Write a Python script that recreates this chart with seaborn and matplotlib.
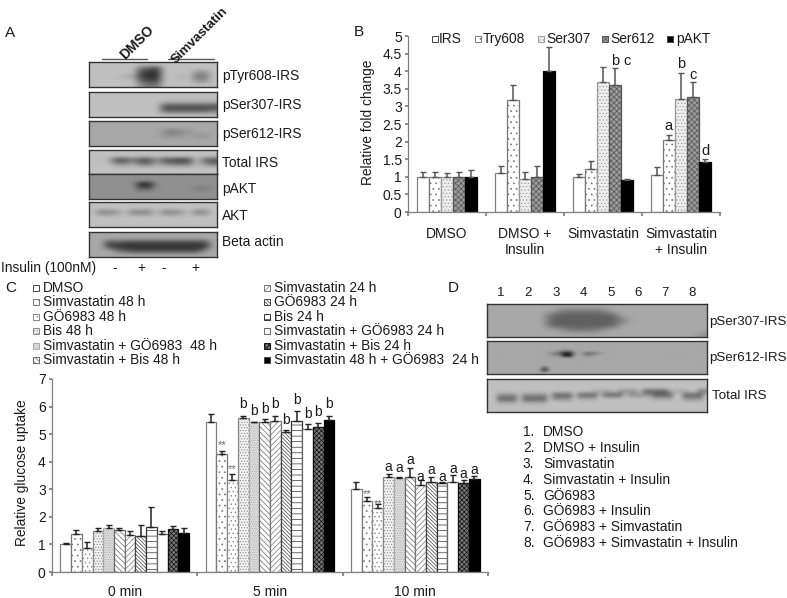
import numpy as np
import pandas as pd
import seaborn as sns
import matplotlib.pyplot as plt
from matplotlib.patches import Rectangle

W, H = 787, 598

# panel B values
b_groups = ['DMSO', 'DMSO +\nInsulin', 'Simvastatin', 'Simvastatin\n+ Insulin']
b_series = ['IRS', 'Try608', 'Ser307', 'Ser612', 'pAKT']
b_irs = [1.0, 1.1, 1.0, 1.05]
b_try608 = [1.0, 3.17, 1.22, 2.05]
b_ser307 = [1.0, 0.95, 3.7, 3.2]
b_ser612 = [1.0, 1.0, 3.6, 3.27]
b_pakt = [1.0, 4.0, 0.9, 1.42]
b_irs_top = [1.15, 1.3, 1.07, 1.27]
b_try608_top = [1.15, 3.6, 1.45, 2.2]
b_ser307_top = [1.1, 1.13, 4.13, 3.95]
b_ser612_top = [1.15, 1.3, 4.08, 3.68]
b_pakt_top = [1.2, 4.7, 0.93, 1.5]

# panel C values, one list per time point
c_groups = ['0 min', '5 min', '10 min']
c_series = ['DMSO', 'Simvastatin 48 h', 'GÖ6983 48 h', 'Bis 48 h',
            'Simvastatin + GÖ6983  48 h', 'Simvastatin + Bis 48 h',
            'Simvastatin 24 h', 'GÖ6983 24 h', 'Bis 24 h',
            'Simvastatin + GÖ6983 24 h', 'Simvastatin + Bis 24 h',
            'Simvastatin 48 h + GÖ6983  24 h']
c_0 = [1.0, 1.38, 0.87, 1.5, 1.58, 1.52, 1.33, 1.3, 1.65, 1.38, 1.57, 1.4]
c_5 = [5.43, 4.27, 3.32, 5.6, 5.43, 5.45, 5.49, 5.07, 5.46, 5.2, 5.27, 5.5]
c_10 = [3.02, 2.59, 2.33, 3.44, 3.41, 3.44, 3.16, 3.28, 3.24, 3.28, 3.23, 3.39]
c_0_top = [1.04, 1.52, 1.1, 1.58, 1.7, 1.6, 1.48, 1.7, 2.35, 1.5, 1.67, 1.58]
c_5_top = [5.73, 4.39, 3.56, 5.66, 5.45, 5.56, 5.65, 5.15, 5.84, 5.38, 5.42, 5.65]
c_10_top = [3.26, 2.71, 2.46, 3.55, 3.44, 3.76, 3.34, 3.46, 3.28, 3.52, 3.34, 3.5]
c_b_y = [6.09, 5.85, 5.93, 6.08, 5.51, 6.24, 5.73, 5.79, 6.08]
c_a_y = [3.8, 3.76, 4.07, 3.44, 3.7, 3.46, 3.75, 3.56, 3.7]

# blots: darkness digit per cell, 0 white .. 9 black
blot_tyr = ['2222222222222222',
            '2222225672222222',
            '2222227882222442',
            '2222337882232552',
            '2222226772222442',
            '2222224552222222']
blot_307 = ['2222222222222222',
            '2222222222222222',
            '2222222223333333',
            '2222222227777777',
            '2222222226666665',
            '2222222222222222']
blot_612 = ['3333333333333333',
            '3333333333333333',
            '3333333334544333',
            '3333333334443443',
            '3333333333333333',
            '3333333333333333']
blot_total = ['2222222222222222',
              '2222222222222222',
              '2237757747787267',
              '2224435534555245',
              '2222222222222222',
              '2222222222222222']
blot_akt_p = ['4444444444444444',
              '4444444444444444',
              '4444449944444444',
              '4444446644444554',
              '4444444444444444',
              '4444444444444444']
blot_akt = ['2222222222222222',
            '2222222222222222',
            '2554255525542552',
            '2222222222222222',
            '2222222222222222',
            '2222222222222222']
blot_actin = ['3333333333333333',
              '3333333333333333',
              '3376777777777773',
              '3378888888888883',
              '3335677777777743',
              '3333333333333333']
blot_d307 = ['3333333333333333333333',
             '3333333555553333333333',
             '3333336666666333333333',
             '3333336666666533333333',
             '3333336666666333333333',
             '3333333455543333333333',
             '3333333333333333333334']
d612_bg = '3' * 44
blot_d612 = [d612_bg, d612_bg, d612_bg, d612_bg,
             '3' * 14 + '4553' + '3' * 26,
             '3' * 12 + '45699' + '43' + '5654' + '3' * 21,
             '3' * 13 + '4499' + '33' + '443' + '3' * 22,
             d612_bg, d612_bg, d612_bg, d612_bg,
             '3' * 11 + '7' + '3' * 32,
             '3' * 11 + '9' + '3' * 32,
             d612_bg]
dtotal_bg = '2' * 44
blot_dtotal = [dtotal_bg, dtotal_bg, dtotal_bg,
               '22222222222222222222233332444426666633332255552',
               '22444424444426666266662666624444466662266662',
               '22666626666624444233332222222222233332244442',
               '22333323333322222222222222222222222222222222',
               dtotal_bg, dtotal_bg]
blot_dtotal = [r[:44] for r in blot_dtotal]

a_labels = ['pTyr608-IRS', 'pSer307-IRS', 'pSer612-IRS', 'Total IRS', 'pAKT', 'AKT', 'Beta actin']
d_labels = ['pSer307-IRS', 'pSer612-IRS', 'Total IRS']
d_lanes = ['DMSO', 'DMSO + Insulin', 'Simvastatin', 'Simvastatin + Insulin', 'GÖ6983',
           'GÖ6983 + Insulin', 'GÖ6983 + Simvastatin', 'GÖ6983 + Simvastatin + Insulin']

GREY = '#808080'
TXT = '#1a1a1a'

sns.set_theme(style='white')
plt.rcParams['font.family'] = ['Liberation Sans', 'DejaVu Sans']
plt.rcParams['font.size'] = 10
plt.rcParams['hatch.linewidth'] = 0.5

fig = plt.figure(figsize=(W / 100, H / 100), dpi=100)
fig.patch.set_facecolor('white')


def px_axes(left, top, right, bottom):
    return fig.add_axes([left / W, 1 - bottom / H, (right - left) / W, (bottom - top) / H])


def label(x, y, s, ha='left', va='center', size=9.9, **kw):
    fig.text(x / W, 1 - y / H, s, ha=ha, va=va, fontsize=size, color=kw.pop('color', TXT), **kw)


def swatch(x, y, size, face, hatch, edge):
    fig.add_artist(Rectangle((x / W, 1 - (y + size / 2) / H), size / W, size / H,
                             transform=fig.transFigure, facecolor=face,
                             hatch=hatch, edgecolor=edge, linewidth=0.7))


def blot(rows, left, top, right, bottom):
    ax = px_axes(left, top, right, bottom)
    grid = np.array([[240 - 24 * int(c) for c in row] for row in rows])
    ax.imshow(grid, cmap='gray', vmin=0, vmax=255, aspect='auto', interpolation='bicubic')
    ax.set_xticks([])
    ax.set_yticks([])
    for s in ax.spines.values():
        s.set_visible(True)
        s.set_color('#333333')
        s.set_linewidth(1)


def bars(ax, groups, series, columns, tops, width, styles, err_color, cap):
    rows = []
    for s, vals in zip(series, columns):
        for g, v in zip(groups, vals):
            rows.append({'group': g, 'series': s, 'value': v})
    df = pd.DataFrame(rows)
    sns.barplot(data=df, x='group', y='value', hue='series', order=groups, hue_order=series,
                width=width, gap=0, palette=['white'] * len(series), saturation=1,
                edgecolor=GREY, linewidth=0.9, legend=False, errorbar=None, ax=ax)
    for cont, (face, hatch, edge), vals, top in zip(ax.containers, styles, columns, tops):
        xs = []
        for p in cont.patches:
            p.set_facecolor(face)
            p.set_hatch(hatch)
            p.set_edgecolor(edge)
            xs.append(p.get_x() + p.get_width() / 2)
        up = np.array(top) - np.array(vals)
        ax.errorbar(xs, vals, yerr=[np.zeros(len(up)), up], fmt='none', ecolor=err_color,
                    elinewidth=1.1, capsize=cap, capthick=1.0, zorder=1)
    ax.set_xlim(-0.5, len(groups) - 0.5)
    ax.set_xlabel('')
    ax.set_ylabel('')
    ax.patch.set_alpha(0)
    for s in ['top', 'right']:
        ax.spines[s].set_visible(False)
    for s in ['left', 'bottom']:
        ax.spines[s].set_color(GREY)
        ax.spines[s].set_linewidth(0.9)
    ax.set_xticks(np.arange(len(groups) + 1) - 0.5)
    ax.set_xticklabels([])
    ax.set_xticks(np.arange(len(groups)), labels=groups, minor=True)
    ax.tick_params(axis='x', which='major', length=3, color=GREY, bottom=True)
    ax.tick_params(axis='x', which='minor', length=0, bottom=False, labelcolor=TXT, labelsize=10)
    ax.tick_params(axis='y', length=2.5, color=GREY, left=True, labelcolor=TXT, labelsize=10, pad=2)


# panel letters
label(5, 33, 'A', size=11)
label(354, 32, 'B', size=11)
label(5, 288, 'C', size=11)
label(448, 288, 'D', size=11)

# panel A
a_blots = [blot_tyr, blot_307, blot_612, blot_total, blot_akt_p, blot_akt, blot_actin]
a_tops = [62, 92, 121, 150, 174, 202, 232]
a_bottoms = [87, 117, 146, 174, 199, 227, 257]
a_text_y = [76, 105, 134, 163, 189, 216, 242]
for rows, t, b, lab, ty in zip(a_blots, a_tops, a_bottoms, a_labels, a_text_y):
    blot(rows, 89, t, 217, b)
    label(222, ty, lab)
fig.add_artist(plt.Line2D([102 / W, 147 / W], [1 - 59 / H] * 2, color='#555555', lw=1))
fig.add_artist(plt.Line2D([168 / W, 214 / W], [1 - 59 / H] * 2, color='#555555', lw=1))
label(137, 42, 'DMSO', ha='center', rotation=45, fontweight='bold', size=10)
label(200, 36, 'Simvastatin', ha='center', rotation=45, fontweight='bold', size=9.5)
label(1, 268, 'Insulin (100nM)')
for x, s in zip([115, 141, 164, 195], ['-', '+', '-', '+']):
    label(x, 268, s, ha='center')

# panel B
ax_b = px_axes(408, 36, 720, 212)
b_styles = [('white', '', GREY), ('white', '...', '#777777'), ('#eeeeee', '.....', '#999999'),
            ('#9a9a9a', 'xxxxxx', '#555555'), ('black', '', 'black')]
bars(ax_b, b_groups, b_series, [b_irs, b_try608, b_ser307, b_ser612, b_pakt],
     [b_irs_top, b_try608_top, b_ser307_top, b_ser612_top, b_pakt_top], 0.78, b_styles, '#555555', 2)
ax_b.set_ylim(0, 5)
ax_b.set_yticks(np.arange(0, 5.5, 0.5))
ax_b.set_yticklabels(['%g' % v for v in np.arange(0, 5.5, 0.5)])
ax_b.tick_params(axis='x', which='minor', pad=11)
label(368, 122, 'Relative fold change', ha='center', rotation=90)
for x, y, s in [(2.156, 4.3, 'b'), (2.312, 4.3, 'c'), (3.0, 4.2, 'b'), (3.156, 3.9, 'c'),
                (2.844, 2.45, 'a'), (3.312, 1.72, 'd')]:
    ax_b.text(x, y, s, ha='center', va='center', fontsize=10.5, color=TXT)
for x_s, x_t, name, st in zip([433, 476, 539, 603, 668], [439, 483, 546, 610, 676], b_series, b_styles):
    swatch(x_s - 1, 39, 6, st[0], st[1], '#444444' if st[1] == '' else st[2])
    label(x_t, 39, name)

# panel C
ax_c = px_axes(52, 379, 488, 572)
c_styles = [('white', '', GREY), ('white', '...', '#777777'), ('white', '....', '#888888'),
            ('#f2f2f2', '......', '#888888'), ('#dddddd', '.......', '#aaaaaa'),
            ('white', '\\\\\\\\\\\\', '#666666'), ('white', '//////', '#777777'),
            ('white', '\\\\\\\\\\\\\\\\\\', '#444444'), ('white', '---', '#333333'),
            ('white', '::', '#666666'), ('#777777', 'xxxxxxx', '#111111'), ('black', '', 'black')]
c_cols = [list(v) for v in zip(c_0, c_5, c_10)]
c_tops = [list(v) for v in zip(c_0_top, c_5_top, c_10_top)]
bars(ax_c, c_groups, c_series, c_cols, c_tops, 0.885, c_styles, '#222222', 2)
ax_c.set_ylim(0, 7)
ax_c.set_yticks(range(8))
ax_c.tick_params(axis='x', which='minor', pad=9.5)
label(22, 473, 'Relative glucose uptake', ha='center', rotation=90)
step = 0.885 / 12
for g, letter, ys in [(1, 'b', c_b_y), (2, 'a', c_a_y)]:
    for i, y in enumerate(ys):
        ax_c.text(g - 0.885 / 2 + step * (i + 3.5), y, letter, ha='center', va='center',
                  fontsize=10, color=TXT)
    for i, y in zip([1, 2], [[4.6, 3.73], [2.82, 2.46]][g - 1]):
        ax_c.text(g - 0.885 / 2 + step * (i + 0.5), y, '**', ha='center', va='center',
                  fontsize=8, color='#666666')
for i, (name, st) in enumerate(zip(c_series, c_styles)):
    col = i // 6
    row_y = [288, 302, 317, 331, 346, 360][i % 6]
    swatch([33, 264][col], row_y, 6, st[0], st[1], '#444444' if st[1] == '' else st[2])
    label([43, 274][col], row_y, name)

# panel D
for rows, t, b, lab, ty, tx in zip([blot_d307, blot_d612, blot_dtotal], [304, 341, 379], [337, 374, 412],
                                   d_labels, [322, 358, 396], [709, 709, 712]):
    blot(rows, 487, t, 707, b)
    label(tx, ty, lab, size=9.6)
for i, x in enumerate([501, 528, 556, 583, 611, 638, 665, 692]):
    label(x, 293, str(i + 1), ha='center', size=9.5)
for i, (name, y) in enumerate(zip(d_lanes, [432, 448, 464, 480, 496, 511, 527, 543])):
    label(523, y, '%d.' % (i + 1))
    label(543, y, name)

fig.savefig('out.png', dpi=100)
